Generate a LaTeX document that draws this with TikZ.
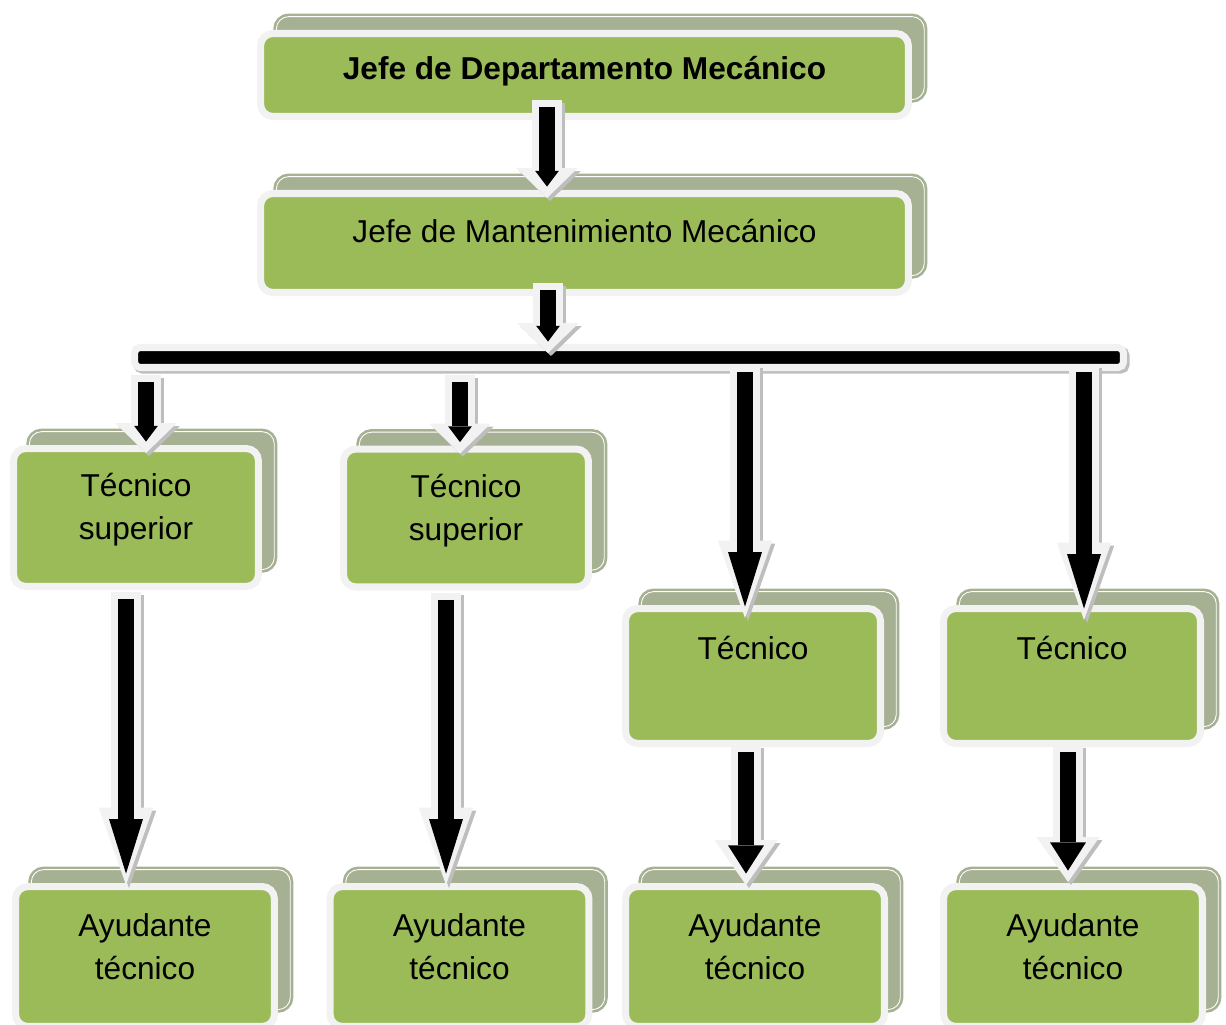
\documentclass[tikz,border=0pt]{standalone}
\usepackage{fontspec}
\setmainfont{Liberation Sans}
\usetikzlibrary{arrows.meta,calc}

\definecolor{verde}{RGB}{155,187,89}
\definecolor{borde}{RGB}{242,242,242}
\definecolor{sombra}{RGB}{166,176,146}
\definecolor{gris}{RGB}{190,190,190}

\tikzset{
  caja/.style={rounded corners=7pt, fill=verde, draw=borde, line width=4pt,
    preaction={fill=sombra, draw=sombra, line width=3.5pt, transform canvas={xshift=9pt,yshift=9.6pt}},
    preaction={draw=white, line width=0.5pt, transform canvas={xshift=9pt,yshift=9.6pt}}},
  texto/.style={font=\fontsize{18}{24.4}\selectfont, align=center, anchor=north, inner sep=0pt},
  barra/.style={fill=black, draw=borde, line width=4pt, rounded corners=3pt,
    preaction={fill=gris, draw=gris, line width=4pt, transform canvas={xshift=1.5pt,yshift=-1.5pt}}},
  % ancho y largo de la punta negra, ancho y largo de la punta clara
  flecha/.style n args={4}{line width=9pt, draw=black, shorten <=4pt, shorten >=6.5pt,
    -{Triangle[width=#1,length=#2,line width=0pt]},
    preaction={draw=gris, line width=17pt, shorten <=0pt, shorten >=0pt,
      -{Triangle[width=#3,length=#4,line width=0pt]}, transform canvas={xshift=1.7pt,yshift=-1.7pt}},
    preaction={draw=borde, line width=17pt, shorten <=0pt, shorten >=0pt,
      -{Triangle[width=#3,length=#4,line width=0pt]}}},
  corta/.style={flecha={13.6pt}{9pt}{35pt}{17pt}},
  media/.style={flecha={20.4pt}{16pt}{35.7pt}{25.5pt}},
  larga/.style={flecha={19.3pt}{31pt}{31pt}{44pt}},
}

\begin{document}
\begin{tikzpicture}[x=0.02cm,y=-0.02cm]
\useasboundingbox (0,0) rectangle (1226,1024);
\clip (0,0) rectangle (1226,1024);

% cajas
\node[caja, minimum width=12.96cm, minimum height=1.66cm] (jdep) at (584.5,75) {};
\node[caja, minimum width=12.96cm, minimum height=1.98cm] (jman) at (584.5,243) {};
\node[caja, minimum width=4.9cm, minimum height=2.76cm] (ts1) at (136,517.5) {};
\node[caja, minimum width=4.9cm, minimum height=2.76cm] (ts2) at (466,518) {};
\node[caja, minimum width=5.1cm, minimum height=2.7cm] (tec3) at (753,676) {};
\node[caja, minimum width=5.14cm, minimum height=2.7cm] (tec4) at (1072,676) {};
\node[caja, minimum width=5.18cm, minimum height=2.8cm] (ay1) at (145,956.5) {};
\node[caja, minimum width=5.18cm, minimum height=2.8cm] (ay2) at (459.5,956.5) {};
\node[caja, minimum width=5.18cm, minimum height=2.8cm] (ay3) at (755,956.5) {};
\node[caja, minimum width=5.18cm, minimum height=2.8cm] (ay4) at (1073,956.5) {};

\node[barra, minimum width=19.78cm, minimum height=0.4cm] (bar) at (629,357.5) {};

% flechas
\draw[corta] ($(jdep.south)+(-37.5,-20)$) -- ($(jman.north)+(-37.5,8)$);
\draw[corta] ($(jman.south)+(-36.5,-13)$) -- ($(bar.north -| jman.south)+(-36.5,9)$);
\draw[corta] ($(bar.south -| ts1.north)+(10,4)$) -- ($(ts1.north)+(10,8)$);
\draw[corta] ($(bar.south -| ts2.north)+(-6,4)$) -- ($(ts2.north)+(-6,8)$);
\draw[larga] ($(bar.south -| tec3.north)+(-8,-6)$) -- ($(tec3.north)+(-8,13)$);
\draw[larga] ($(bar.south -| tec4.north)+(12,-6)$) -- ($(tec4.north)+(12,15)$);
\draw[larga] ($(ts1.south)+(-10,2)$) -- ($(ay1.north)+(-19,2)$);
\draw[larga] ($(ts2.south)+(-20,2)$) -- ($(ay2.north)+(-13.5,2)$);
\draw[media] ($(tec3.south)+(-7,-2)$) -- ($(ay3.north)+(-9,2)$);
\draw[media] ($(tec4.south)+(-4,-2)$) -- ($(ay4.north)+(-5,-1)$);

% textos
\node[texto] (jdept) at ([yshift=-0.52cm]jdep.north) {\bfseries Jefe de Departamento Mecánico};
\node[texto] (jmant) at ([yshift=-0.58cm]jman.north) {Jefe de Mantenimiento Mecánico};
\node[texto] (ts1t) at ([yshift=-0.56cm]ts1.north) {Técnico\\superior};
\node[texto] (ts2t) at ([yshift=-0.56cm]ts2.north) {Técnico\\superior};
\node[texto] (tec3t) at ([yshift=-0.62cm]tec3.north) {Técnico};
\node[texto] (tec4t) at ([yshift=-0.62cm]tec4.north) {Técnico};
\node[texto] (ay1t) at ([yshift=-0.6cm]ay1.north) {Ayudante\\técnico};
\node[texto] (ay2t) at ([yshift=-0.6cm]ay2.north) {Ayudante\\técnico};
\node[texto] (ay3t) at ([yshift=-0.6cm]ay3.north) {Ayudante\\técnico};
\node[texto] (ay4t) at ([yshift=-0.6cm]ay4.north) {Ayudante\\técnico};
\end{tikzpicture}
\end{document}
